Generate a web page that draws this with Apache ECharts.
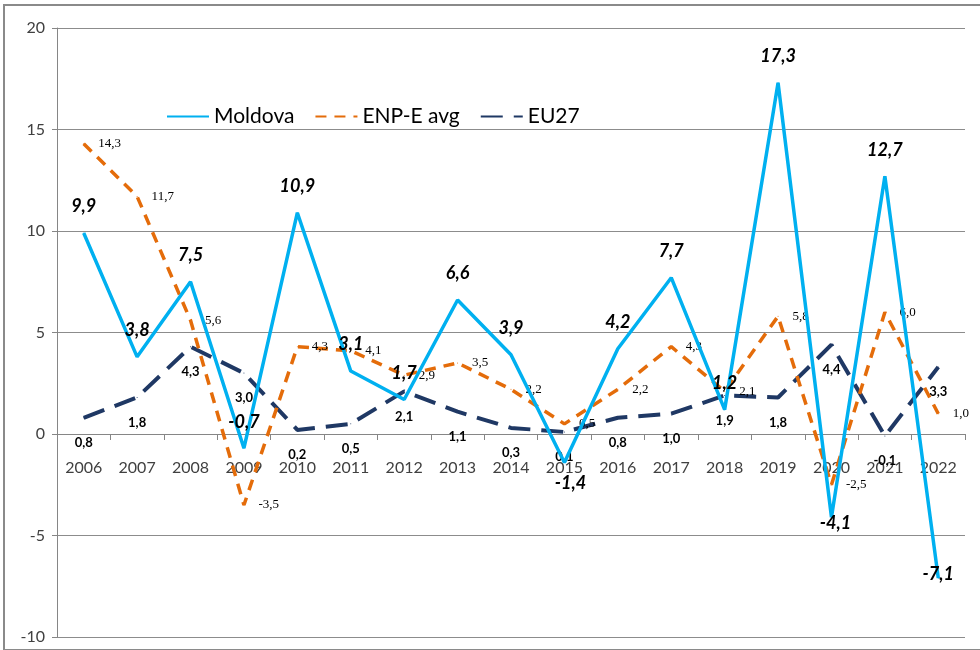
<!DOCTYPE html>
<html>
<head>
<meta charset="utf-8">
<script src="https://cdn.jsdelivr.net/npm/echarts@6/dist/echarts.min.js"></script>
<style>
  html, body { margin: 0; padding: 0; background: #fff; }
  #frame { position: absolute; left: 3px; top: 4px; width: 990px; height: 643px; border: 2px solid #8a8a8a; border-right: none; }
  #chart { position: absolute; left: 0; top: 0; width: 980px; height: 650px; }
</style>
</head>
<body>
<div id="frame"></div>
<div id="chart"></div>
<script>
// года
const years = ['2006','2007','2008','2009','2010','2011','2012','2013','2014','2015','2016','2017','2018','2019','2020','2021','2022'];
// рост, %
const moldova = [9.9, 3.8, 7.5, -0.7, 10.9, 3.1, 1.7, 6.6, 3.9, -1.4, 4.2, 7.7, 1.2, 17.3, -4.1, 12.7, -7.1];
const enpAvg  = [14.3, 11.7, 5.6, -3.5, 4.3, 4.1, 2.9, 3.5, 2.2, 0.5, 2.2, 4.3, 2.1, 5.8, -2.5, 6.0, 1.0];
const eu27    = [0.8, 1.8, 4.3, 3.0, 0.2, 0.5, 2.1, 1.1, 0.3, 0.1, 0.8, 1.0, 1.9, 1.8, 4.4, -0.1, 3.3];
const yTicks  = [-10, -5, 0, 5, 10, 15, 20];

// подписи Молдовы, которые стоят под точкой
const moldovaBelow = ['2015', '2020'];
const moldovaInside = ['2022'];

const sans = 'Lato, "Noto Sans", sans-serif';
const fmt = function(p){ return p.value.toFixed(1).replace('.', ','); };

let moldovaData = moldova.map(function(v, i){
  let item = {value: v};
  if(years[i] == '2015'){
    item.label = {position: 'bottom', distance: 11, offset: [6, 0]};
  }else if(moldovaBelow.indexOf(years[i]) >= 0){
    item.label = {position: 'bottom', distance: 0, offset: [4, -4]};
  }else if(moldovaInside.indexOf(years[i]) >= 0){
    item.label = {position: 'inside', offset: [0, -4]};
  }
  return item;
});

let myChart = echarts.init(document.getElementById('chart'));
let option = {
  animation: false,
  grid: {left: 57, right: 15, top: 28, bottom: 13, containLabel: false, outerBoundsMode: 'none'},
  legend: {
    left: 161, top: 101,
    itemWidth: 42, itemHeight: 14, itemGap: 20,
    itemStyle: {opacity: 0},
    textStyle: {fontFamily: sans, fontSize: 21, color: '#000'},
    data: ['Moldova', 'ENP-E avg', 'EU27']
  },
  xAxis: {
    type: 'category',
    data: years,
    boundaryGap: true,
    position: 'bottom',
    offset: -203,
    axisLine: {onZero: false, lineStyle: {color: '#868686', width: 1}},
    axisTick: {show: true, length: 6, lineStyle: {color: '#868686'}},
    axisLabel: {fontFamily: sans, fontSize: 16, color: '#404040', margin: 26, interval: 0}
  },
  yAxis: {
    type: 'value',
    min: yTicks[0], max: yTicks[yTicks.length - 1], interval: 5,
    axisLine: {show: true, lineStyle: {color: '#868686'}},
    axisTick: {show: true, length: 5, lineStyle: {color: '#868686'}},
    splitLine: {lineStyle: {color: '#8c8c8c', width: 1}},
    axisLabel: {fontFamily: sans, fontSize: 16, color: '#404040', margin: 12}
  },
  series: [
    {
      name: 'Moldova', type: 'line', data: moldovaData,
      symbol: 'circle', symbolSize: 1,
      itemStyle: {color: '#00B0F0'},
      lineStyle: {color: '#00B0F0', width: 3.5},
      z: 4,
      label: {
        show: true, position: 'top', distance: 17,
        fontFamily: sans, fontSize: 18, fontWeight: 'bold', fontStyle: 'italic',
        color: '#000', formatter: fmt
      }
    },
    {
      name: 'ENP-E avg', type: 'line', data: enpAvg,
      symbol: 'circle', symbolSize: 1,
      itemStyle: {color: '#E46C0A'},
      lineStyle: {color: '#E46C0A', width: 3.5, type: [11, 8]},
      z: 3,
      label: {
        show: true, position: 'right', distance: 14,
        fontFamily: '"Liberation Serif", serif', fontSize: 13,
        color: '#000', formatter: fmt
      }
    },
    {
      name: 'EU27', type: 'line', data: eu27,
      symbol: 'circle', symbolSize: 1,
      itemStyle: {color: '#1F3864'},
      lineStyle: {color: '#1F3864', width: 4, type: [22, 11]},
      z: 2,
      label: {
        show: true, position: 'bottom', distance: 18,
        fontFamily: sans, fontSize: 13, fontWeight: 'bold',
        color: '#000', formatter: fmt
      }
    }
  ]
};
myChart.setOption(option);
</script>
</body>
</html>
